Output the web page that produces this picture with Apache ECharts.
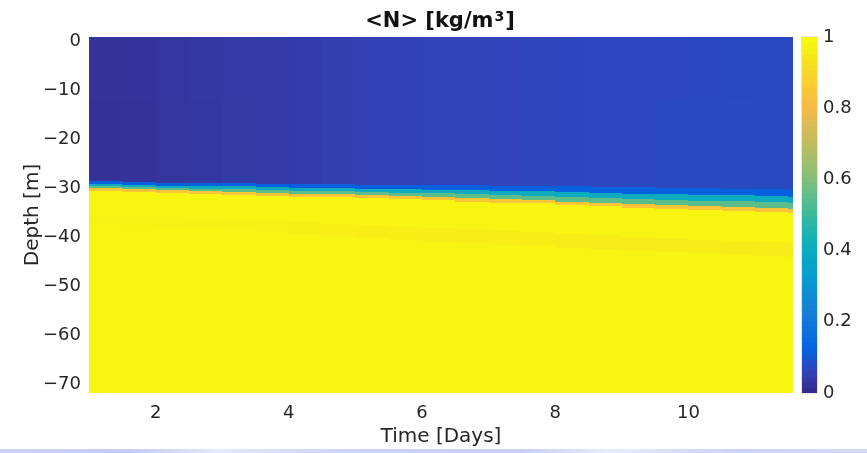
<!DOCTYPE html>
<html>
<head>
<meta charset="utf-8">
<title>&lt;N&gt; [kg/m3]</title>
<script src="https://cdn.jsdelivr.net/npm/echarts@6/dist/echarts.min.js"></script>
<style>
  html, body { margin: 0; padding: 0; background: #ffffff; }
  #chart { width: 867px; height: 453px; }
</style>
</head>
<body>
<div id="chart"></div>
<script>
// ---- Field data: N(time, depth) ----
// Time columns, day at column centre (each column spans 0.5 day)
const timeDays = [1.25, 1.75, 2.25, 2.75, 3.25, 3.75, 4.25, 4.75, 5.25, 5.75, 6.25,
                  6.75, 7.25, 7.75, 8.25, 8.75, 9.25, 9.75, 10.25, 10.75, 11.25, 11.75];
// N in the surface layer (0-12 m)
const surfaceN = [0.024, 0.026, 0.03, 0.034, 0.038, 0.042, 0.046, 0.05, 0.054, 0.057, 0.06,
                  0.062, 0.064, 0.066, 0.068, 0.07, 0.071, 0.072, 0.073, 0.074, 0.075, 0.075];
// N in the rest of the mixed layer (12 m down to the pycnocline)
const mixedN = [0.021, 0.023, 0.027, 0.032, 0.037, 0.042, 0.046, 0.05, 0.054, 0.057, 0.06,
                0.062, 0.064, 0.066, 0.068, 0.07, 0.072, 0.074, 0.075, 0.076, 0.077, 0.077];
// Depths (m) of the layers that make up the pycnocline, per column
const transitionTop = [28.6, 28.8, 28.9, 29.0, 29.0, 29.1, 29.2, 29.2, 29.3, 29.3, 29.4,
                       29.4, 29.5, 29.5, 29.6, 29.7, 29.8, 29.9, 30.0, 30.1, 30.2, 30.3];
const cyanTop = [29.1, 29.3, 29.5, 29.6, 29.6, 29.8, 29.9, 30.0, 30.1, 30.2, 30.3,
                 30.4, 30.5, 30.6, 30.8, 30.9, 31.1, 31.2, 31.3, 31.4, 31.6, 31.7];
const greenTop = [29.6, 29.8, 30.0, 30.2, 30.2, 30.4, 30.5, 30.6, 30.7, 30.9, 31.0,
                  31.2, 31.3, 31.5, 31.7, 31.9, 32.2, 32.3, 32.5, 32.6, 32.8, 33.0];
const interfaceDepth = [30.0, 30.2, 30.4, 30.6, 30.7, 30.9, 31.1, 31.2, 31.4, 31.6, 31.8,
                        32.0, 32.2, 32.4, 32.7, 33.0, 33.3, 33.5, 33.7, 33.9, 34.1, 34.3];
const interfaceBottom = [30.6, 30.8, 31.0, 31.2, 31.3, 31.5, 31.7, 31.8, 32.0, 32.2, 32.4,
                         32.7, 32.9, 33.1, 33.4, 33.7, 34.0, 34.3, 34.5, 34.7, 34.9, 35.1];
// N within the pycnocline layers
const transitionN = 0.12;
const cyanN = 0.4;
const greenN = 0.55;
const interfaceN = 0.85;
// Faint darker streak inside the dense lower layer
const streakTop = [35.5, 35.7, 35.9, 36.1, 36.3, 36.6, 36.9, 37.2, 37.5, 37.8, 38.1,
                   38.4, 38.7, 39.0, 39.3, 39.6, 39.9, 40.2, 40.5, 40.8, 41.0, 41.2];
const streakBottom = [37.5, 37.7, 37.9, 38.2, 38.5, 38.9, 39.3, 39.7, 40.1, 40.5, 40.9,
                      41.2, 41.5, 41.8, 42.1, 42.4, 42.7, 43.0, 43.3, 43.6, 43.8, 44.0];
const streakN = [0.978, 0.978, 0.976, 0.975, 0.974, 0.972, 0.97, 0.968, 0.966, 0.965, 0.964,
                 0.963, 0.962, 0.961, 0.96, 0.96, 0.96, 0.96, 0.96, 0.96, 0.96, 0.96];
// N in the dense lower layer
const deepN = 0.985;

// ---- Axis ticks ----
const timeTicks = [2, 4, 6, 8, 10];
const depthTicks = [0, -10, -20, -30, -40, -50, -60, -70];
const colorbarTicks = [0, 0.2, 0.4, 0.6, 0.8, 1];

// parula colour map
const parula = ['#352a87', '#3243ba', '#0363e1', '#0d75dc', '#1485d4', '#0998d1',
                '#06a7c6', '#15b1b4', '#38b99e', '#65be86', '#92bf73', '#b7bd64',
                '#d9ba56', '#f8bb44', '#fcce2e', '#f5e41d', '#f9fb0e'];

const colWidth = 0.5;     // days per column
const surfaceBase = 12;   // bottom of the surface layer (m)
const fieldTop = -1;      // depth range covered by the columns (m)
const fieldBottom = 73;

// One cell per layer per column: [time, top depth, bottom depth, N]
const cells = [];
timeDays.forEach((t, c) => {
  const layers = [
    [fieldTop, surfaceBase, surfaceN[c]],
    [surfaceBase, transitionTop[c], mixedN[c]],
    [transitionTop[c], cyanTop[c], transitionN],
    [cyanTop[c], greenTop[c], cyanN],
    [greenTop[c], interfaceDepth[c], greenN],
    [interfaceDepth[c], interfaceBottom[c], interfaceN],
    [interfaceBottom[c], streakTop[c], deepN],
    [streakTop[c], streakBottom[c], streakN[c]],
    [streakBottom[c], fieldBottom, deepN]
  ];
  layers.forEach(([top, bottom, n]) => {
    if (bottom > top) cells.push([t, -top, -bottom, n]);
  });
});

// Colour bar: one cell per colour level
const barLevels = [];
for (let k = 0; k < 64; k++) {
  const v = (k + 0.5) / 64;
  barLevels.push([0.5, v + 0.5 / 64, v - 0.5 / 64, v]);
}

// Pixel-snapped rectangle, clipped to the grid
function cellRect(x0, y0, x1, y1, cs) {
  const left = Math.round(Math.max(Math.min(x0, x1), cs.x));
  const right = Math.round(Math.min(Math.max(x0, x1), cs.x + cs.width));
  const top = Math.round(Math.max(Math.min(y0, y1), cs.y));
  const bottom = Math.round(Math.min(Math.max(y0, y1), cs.y + cs.height));
  return { x: left, y: top, width: Math.max(0, right - left), height: Math.max(0, bottom - top) };
}

const FONT = 'DejaVu Sans';
const TXT = '#262626';

const chart = echarts.init(document.getElementById('chart'), null, { renderer: 'canvas' });

chart.setOption({
  animation: false,
  backgroundColor: '#ffffff',
  title: {
    text: '<N> [kg/m{sup|3}]',
    left: 435,
    top: 5,
    textAlign: 'center',
    textStyle: {
      fontFamily: FONT, fontSize: 21, fontWeight: 'bold', color: '#111111',
      rich: {
        sup: { fontFamily: FONT, fontSize: 14, fontWeight: 'bold', color: '#111111',
               verticalAlign: 'bottom', padding: [0, 1, 9, 1] }
      }
    }
  },
  grid: [
    { left: 89, top: 37, width: 704, height: 356, show: false },
    { left: 802, top: 37, width: 15, height: 356, show: true,
      borderColor: '#c8c8c8', borderWidth: 1 }
  ],
  xAxis: [
    {
      type: 'value', gridIndex: 0, min: 1.0, max: 11.57,
      name: 'Time [Days]', nameLocation: 'middle', nameGap: 34, nameMoveOverlap: false,
      nameTextStyle: { fontFamily: FONT, fontSize: 20, color: TXT },
      axisLine: { show: false }, axisTick: { show: false }, splitLine: { show: false },
      axisLabel: { customValues: timeTicks, fontFamily: FONT, fontSize: 18, color: TXT, margin: 11 }
    },
    {
      type: 'value', gridIndex: 1, min: 0, max: 1, show: false
    }
  ],
  yAxis: [
    {
      type: 'value', gridIndex: 0, min: -71.8, max: 0.9,
      name: 'Depth [m]', nameLocation: 'middle', nameGap: 46, nameRotate: 90,
      nameMoveOverlap: false,
      nameTextStyle: { fontFamily: FONT, fontSize: 20, color: TXT },
      axisLine: { show: false }, axisTick: { show: false }, splitLine: { show: false },
      axisLabel: {
        customValues: depthTicks, fontFamily: FONT, fontSize: 18, color: TXT, margin: 8,
        formatter: v => (v < 0 ? '\u2212' + Math.abs(v) : String(v))
      }
    },
    {
      type: 'value', gridIndex: 1, min: 0, max: 1, position: 'right',
      axisLine: { show: false }, axisTick: { show: false }, splitLine: { show: false },
      axisLabel: {
        customValues: colorbarTicks, fontFamily: FONT, fontSize: 18, color: TXT, margin: 6,
        formatter: v => String(Math.round(v * 10) / 10)
      }
    }
  ],
  visualMap: {
    type: 'continuous', show: false, min: 0, max: 1, dimension: 3,
    seriesIndex: [0, 1],
    inRange: { color: parula }
  },
  series: [
    {
      type: 'custom', name: 'N', xAxisIndex: 0, yAxisIndex: 0,
      data: cells, encode: { x: 0, y: [1, 2] }, silent: true,
      renderItem: (params, api) => {
        const t = api.value(0);
        const a = api.coord([t - colWidth / 2, api.value(1)]);
        const b = api.coord([t + colWidth / 2, api.value(2)]);
        return {
          type: 'rect',
          shape: cellRect(a[0], a[1], b[0], b[1], params.coordSys),
          style: { fill: api.visual('color') }
        };
      }
    },
    {
      type: 'custom', name: 'colorbar', xAxisIndex: 1, yAxisIndex: 1,
      data: barLevels, encode: { x: 0, y: [1, 2] }, silent: true,
      renderItem: (params, api) => {
        const a = api.coord([0, api.value(1)]);
        const b = api.coord([1, api.value(2)]);
        return {
          type: 'rect',
          shape: cellRect(a[0], a[1] - 0.5, b[0], b[1] + 0.5, params.coordSys),
          style: { fill: api.visual('color') }
        };
      }
    }
  ],
  graphic: [
    {
      type: 'rect', left: 0, top: 449, silent: true,
      shape: { width: 867, height: 4 },
      style: {
        fill: new echarts.graphic.LinearGradient(0, 0, 1, 0, [
          { offset: 0, color: '#cbd2f2' },
          { offset: 0.15, color: '#c4ccf0' },
          { offset: 0.25, color: '#e4e8f8' },
          { offset: 0.4, color: '#cdd4f3' },
          { offset: 0.6, color: '#c7cff1' },
          { offset: 0.7, color: '#e8ebf9' },
          { offset: 0.85, color: '#ccd3f2' },
          { offset: 1, color: '#d4daf4' }
        ])
      }
    }
  ]
});
</script>
</body>
</html>
